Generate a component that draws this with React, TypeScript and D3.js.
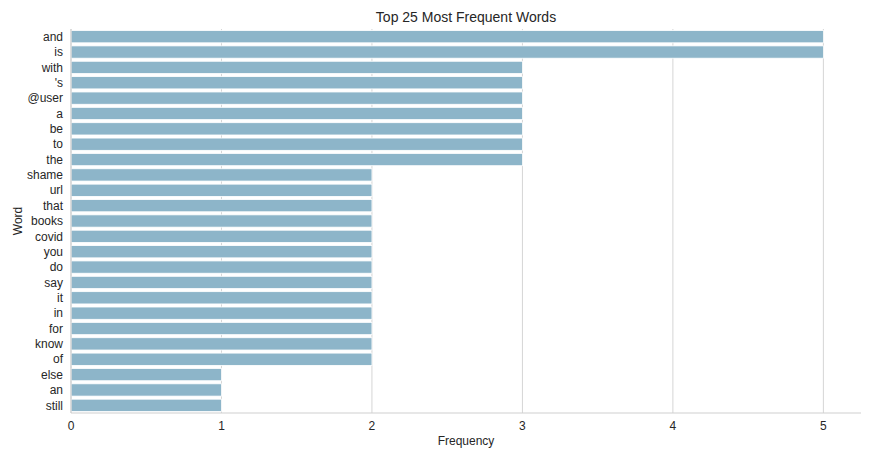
import React from "react";
import * as d3 from "d3";

const words = [
  "and", "is", "with", "'s", "@user", "a", "be", "to", "the",
  "shame", "url", "that", "books", "covid", "you", "do", "say", "it",
  "in", "for", "know", "of", "else", "an", "still",
];
const counts = [
  5, 5, 3, 3, 3, 3, 3, 3, 3,
  2, 2, 2, 2, 2, 2, 2, 2, 2,
  2, 2, 2, 2, 1, 1, 1,
];
const xTicks = [0, 1, 2, 3, 4, 5];

const W = 880;
const H = 457;
const left = 71;
const right = 861;
const top = 29;
const bottom = 413;
const font = "'Liberation Sans', Arial, sans-serif";

const App = () => {
  const x = d3.scaleLinear().domain([0, 5.25]).range([left, right]);
  const y = d3
    .scaleBand<string>()
    .domain(words)
    .range([top, bottom])
    .paddingInner(0.2)
    .paddingOuter(0.1);

  return (
    <svg
      width={W}
      height={H}
      style={{ position: "absolute", left: 0, top: 0, background: "#fff" }}
      fontFamily={font}
    >
      {/* grid */}
      {xTicks.map((t) => (
        <line
          key={"g" + t}
          x1={x(t)}
          x2={x(t)}
          y1={top}
          y2={bottom}
          stroke="#d5d5d5"
          strokeWidth={1}
        />
      ))}
      {/* bars */}
      {words.map((w, i) => (
        <rect
          key={w}
          x={x(0)}
          y={y(w)}
          width={x(counts[i]) - x(0)}
          height={y.bandwidth()}
          fill="#8db5c9"
          stroke="#ffffff"
          strokeWidth={0.8}
        />
      ))}
      {/* spines */}
      <line x1={left} x2={left} y1={top} y2={bottom} stroke="#d0d0d0" strokeWidth={1.2} />
      <line x1={left} x2={right} y1={bottom} y2={bottom} stroke="#d0d0d0" strokeWidth={1.2} />
      {/* y tick labels */}
      {words.map((w) => (
        <text
          key={"l" + w}
          x={left - 8}
          y={(y(w) ?? 0) + y.bandwidth() / 2}
          dy="0.35em"
          textAnchor="end"
          fontSize={12}
          fill="#262626"
        >
          {w}
        </text>
      ))}
      {/* x tick labels */}
      {xTicks.map((t) => (
        <text
          key={"t" + t}
          x={x(t)}
          y={bottom + 17}
          textAnchor="middle"
          fontSize={12}
          fill="#262626"
        >
          {t}
        </text>
      ))}
      <text x={(left + right) / 2} y={445} textAnchor="middle" fontSize={12} fill="#262626">
        Frequency
      </text>
      <text
        transform={`translate(22,${(top + bottom) / 2}) rotate(-90)`}
        textAnchor="middle"
        fontSize={12}
        fill="#262626"
      >
        Word
      </text>
      <text x={(left + right) / 2} y={22} textAnchor="middle" fontSize={14} fill="#262626">
        Top 25 Most Frequent Words
      </text>
    </svg>
  );
};

export default App;
